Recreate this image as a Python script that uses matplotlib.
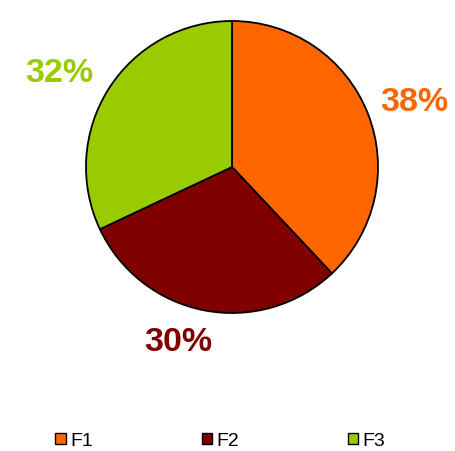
import matplotlib.pyplot as plt

labels = ["F1", "F2", "F3"]
shares = [38, 30, 32]
colors = ["#FF6600", "#800000", "#99CC00"]

# where each percentage label sits, in pie-radius units from the centre
label_xy = [(1.25, 0.44), (-0.37, -1.20), (-1.18, 0.64)]

plt.rcParams["font.family"] = ["Liberation Sans", "DejaVu Sans"]

W, H = 455, 451
fig = plt.figure(figsize=(W / 100, H / 100), dpi=100)

# pie centre ~ (232, 167) px from top-left, radius ~146 px
r_px = 146
cx, cy = 232, H - 167
span = 1.5
ax = fig.add_axes([(cx - span * r_px) / W, (cy - span * r_px) / H,
                   2 * span * r_px / W, 2 * span * r_px / H])

wedges, texts, autotexts = ax.pie(
    shares, colors=colors, startangle=90, counterclock=False,
    autopct="%d%%", pctdistance=1.3,
    wedgeprops=dict(edgecolor="black", linewidth=1.3),
)
for t, c, xy in zip(autotexts, colors, label_xy):
    t.set_position(xy)
    t.set_color(c)
    t.set_fontsize(24.5)
    t.set_fontweight("bold")
    t.set_clip_on(False)
ax.set_xlim(-span, span)
ax.set_ylim(-span, span)
ax.set_aspect("equal")
ax.axis("off")

handles = [plt.Rectangle((0, 0), 1, 1, facecolor=c, edgecolor="black", linewidth=1)
           for c in colors]
fig.legend(handles, labels, loc="center", bbox_to_anchor=(0.484, 1 - 441 / H),
           ncol=3, frameon=False, fontsize=14, handlelength=0.55, handleheight=0.55,
           handletextpad=0.2, columnspacing=5.6)

fig.savefig("out.png", dpi=100)
